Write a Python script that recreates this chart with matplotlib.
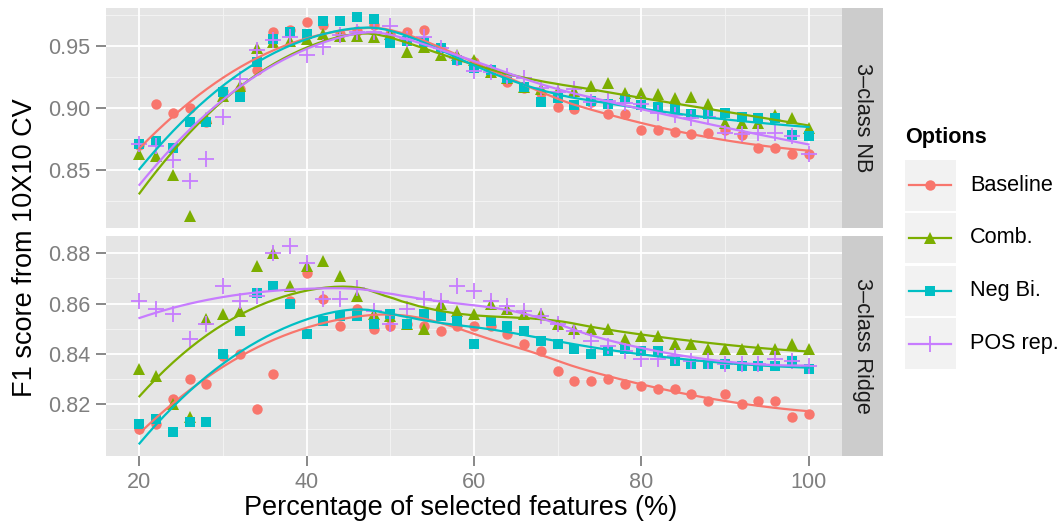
import numpy as np
import matplotlib
matplotlib.use("Agg")
import matplotlib.pyplot as plt
from matplotlib.patches import Rectangle

plt.rcParams['font.family'] = ['Liberation Sans', 'DejaVu Sans']

W, H = 1064, 523

pct = np.arange(20, 101, 2)

options = ["Baseline", "Comb.", "Neg Bi.", "POS rep."]
colors = ["#F8766D", "#7CAE00", "#00BFC4", "#C77CFF"]
markers = ["o", "^", "s", "+"]
panels = ["3\u2013class NB", "3\u2013class Ridge"]

# 3-class NB
nb_baseline = [.870, .903, .896, .900, .889, .914, .915, .931, .961, .963, .969, .967, .960, .962, .967, .960, .961, .963, .948, .939, .937,
               .931, .921, .916, .912, .901, .899, .905, .895, .895, .882, .882, .881, .879, .880, .882, .878, .868, .868, .863, .863]
nb_comb = [.863, .861, .846, .813, .892, .910, .918, .948, .953, .954, .956, .960, .958, .958, .957, .960, .945, .949, .943, .943, .939,
           .929, .924, .917, .915, .914, .914, .918, .920, .912, .912, .911, .908, .909, .903, .888, .888, .888, .894, .892, .884]
nb_negbi = [.871, .873, .868, .889, .889, .913, .909, .937, .956, .961, .960, .970, .970, .973, .972, .952, .954, .953, .948, .939, .932,
            .931, .924, .917, .905, .908, .902, .906, .903, .907, .902, .901, .900, .895, .895, .896, .893, .892, .892, .878, .877]
nb_pos = [.871, .869, .858, .841, .859, .893, .923, .947, .955, .957, .943, .949, .959, .961, .961, .966, .956, .957, .948, .940, .930,
          .929, .926, .924, .916, .913, .915, .905, .906, .904, .903, .896, .894, .892, .893, .880, .879, .880, .880, .877, .863]

# 3-class Ridge
ridge_baseline = [.810, .812, .822, .830, .828, .839, .840, .818, .832, .861, .872, .862, .851, .858, .850, .851, .852, .851, .849, .851, .851,
                  .851, .848, .844, .841, .833, .829, .829, .830, .828, .827, .826, .826, .824, .821, .824, .820, .821, .821, .815, .816]
ridge_comb = [.834, .831, .820, .815, .854, .856, .857, .875, .880, .867, .875, .877, .871, .863, .856, .855, .852, .850, .860, .857, .856,
              .860, .858, .856, .856, .852, .850, .850, .850, .846, .847, .847, .844, .844, .842, .842, .842, .842, .842, .844, .842]
ridge_negbi = [.812, .814, .809, .813, .813, .840, .849, .864, .867, .860, .848, .853, .855, .855, .852, .856, .852, .856, .855, .853, .844,
               .853, .851, .849, .845, .844, .842, .840, .841, .842, .841, .841, .837, .836, .836, .836, .835, .835, .835, .837, .834]
ridge_pos = [.861, .858, .856, .846, .852, .867, .861, .863, .880, .883, .876, .862, .862, .866, .857, .852, .858, .862, .861, .867, .865,
             .861, .859, .857, .855, .852, .849, .845, .843, .841, .838, .838, .839, .837, .837, .836, .836, .836, .838, .837, .835]

panel_data = [[nb_baseline, nb_comb, nb_negbi, nb_pos],
              [ridge_baseline, ridge_comb, ridge_negbi, ridge_pos]]
ylims = [(0.8032, 0.9806), (0.7994, 0.8869)]
yticks = [[0.85, 0.90, 0.95], [0.82, 0.84, 0.86, 0.88]]
yminor = [[0.825, 0.875, 0.925, 0.975], [0.81, 0.83, 0.85, 0.87]]


def loess(x, y, xs, span=0.75):
    x = np.asarray(x, float)
    y = np.asarray(y, float)
    q = int(np.floor(len(x) * span))
    out = []
    for x0 in xs:
        d = np.abs(x - x0)
        h = np.sort(d)[q - 1]
        w = np.clip(1 - (d / h) ** 3, 0, None) ** 3
        A = np.vstack([np.ones_like(x), x - x0, (x - x0) ** 2]).T
        sw = np.sqrt(w)
        beta = np.linalg.lstsq(A * sw[:, None], y * sw, rcond=None)[0]
        out.append(beta[0])
    return np.array(out)


fig = plt.figure(figsize=(W / 100, H / 100), dpi=100)

boxes = [(8, 228), (236, 455.7)]
xs = np.linspace(20, 100, 80)
msize = {"o": 7.5, "^": 8, "s": 7, "+": 12}

for i, (top, bot) in enumerate(boxes):
    ax = fig.add_axes([106 / W, 1 - bot / H, 736 / W, (bot - top) / H])
    ax.set_facecolor("#E5E5E5")
    for s in ax.spines.values():
        s.set_visible(False)
    for v in [30, 50, 70, 90]:
        ax.axvline(v, color="#F2F2F2", lw=0.8, zorder=0)
    for v in yminor[i]:
        ax.axhline(v, color="#F2F2F2", lw=0.8, zorder=0)
    for v in [20, 40, 60, 80, 100]:
        ax.axvline(v, color="white", lw=1.3, zorder=0)
    for v in yticks[i]:
        ax.axhline(v, color="white", lw=1.3, zorder=0)

    for vals, c, m in zip(panel_data[i], colors, markers):
        ax.plot(pct, vals, ls="none", marker=m, color=c, ms=msize[m],
                mew=1.3 if m == "+" else 0, zorder=2)
    for vals, c in zip(panel_data[i], colors):
        ax.plot(xs, loess(pct, vals, xs), color=c, lw=1.6, zorder=3)

    ax.set_xlim(16, 104)
    ax.set_ylim(*ylims[i])
    ax.set_yticks(yticks[i])
    ax.set_yticklabels(["%.2f" % v for v in yticks[i]])
    ax.set_xticks([20, 40, 60, 80, 100])
    ax.tick_params(colors="#7F7F7F", labelsize=15.6, length=7.5, width=1.3, pad=4)
    if i == 0:
        ax.tick_params(axis="x", length=0, labelbottom=False)

    sax = fig.add_axes([842 / W, 1 - bot / H, 41 / W, (bot - top) / H])
    sax.set_facecolor("#CCCCCC")
    sax.set_xticks([])
    sax.set_yticks([])
    for s in sax.spines.values():
        s.set_visible(False)
    sax.text(0.5, 0.5, panels[i], rotation=-90, ha="center", va="center",
             fontsize=15.6, color="#1A1A1A", transform=sax.transAxes)

fig.text(461 / W, 1 - 508 / H, "Percentage of selected features (%)",
         ha="center", va="center", fontsize=19.5)
fig.text(25 / W, 1 - 248 / H, "F1 score from 10X10 CV", rotation=90,
         ha="center", va="center", fontsize=19.5)

# legend
lax = fig.add_axes([0, 0, 1, 1])
lax.set_xlim(0, W)
lax.set_ylim(H, 0)
lax.axis("off")
lax.patch.set_alpha(0)
lax.text(905, 138, "Options", fontsize=15.6, fontweight="bold", va="center", ha="left")
key_tops = [160, 212.7, 265.7, 318.3]
for kt, lab, c, m in zip(key_tops, options, colors, markers):
    lax.add_patch(Rectangle((905, kt), 50.5, 50.5, facecolor="#F2F2F2", edgecolor="none"))
    cy = kt + 25.25
    lax.plot([909, 951], [cy, cy], color=c, lw=1.6)
    lax.plot([930], [cy], marker=m, color=c, ms=msize[m], mew=1.3 if m == "+" else 0, ls="none")
    lax.text(970, cy, lab, fontsize=15.6, va="center", ha="left")

fig.savefig("out.png", dpi=100)
